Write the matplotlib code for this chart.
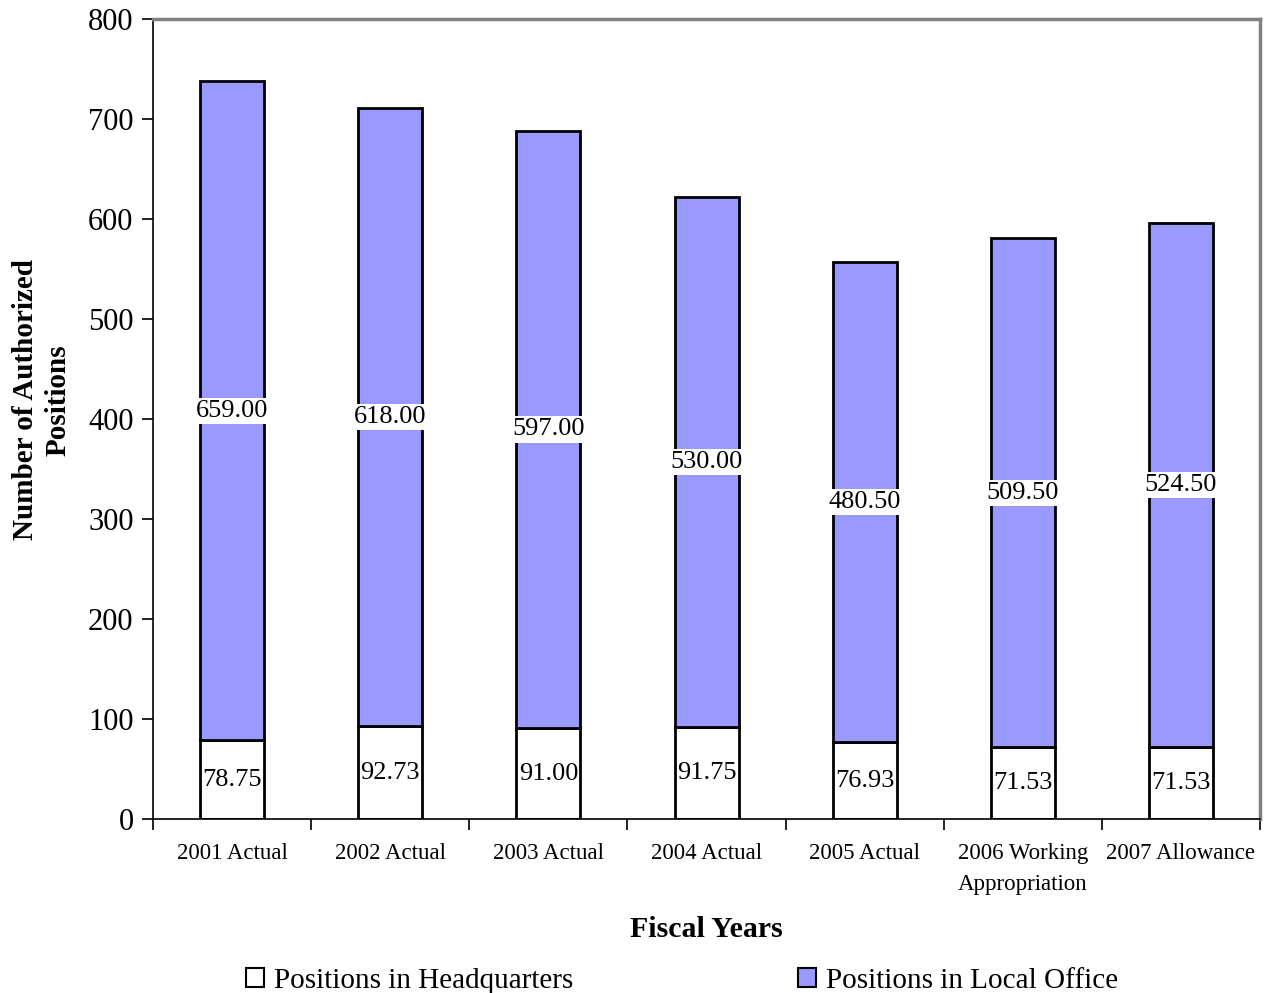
import numpy as np
import matplotlib
matplotlib.use("Agg")
import matplotlib.pyplot as plt
from matplotlib.patches import Patch

# Authorized positions by fiscal year
years = ["2001 Actual", "2002 Actual", "2003 Actual", "2004 Actual",
         "2005 Actual", "2006 Working\nAppropriation", "2007 Allowance"]
headquarters = [78.75, 92.73, 91.00, 91.75, 76.93, 71.53, 71.53]
local_office = [659.00, 618.00, 597.00, 530.00, 480.50, 509.50, 524.50]

plt.rcParams['font.family'] = ['Liberation Serif', 'DejaVu Serif']

fig = plt.figure(figsize=(12.68, 9.93), dpi=100)
ax = fig.add_axes([0.1207, 0.1752, 0.873, 0.8057])

x = np.arange(len(years))
hq = np.array(headquarters)
lo = np.array(local_office)
width = 0.405

ax.bar(x, hq, width, color="white", edgecolor="black", linewidth=2, zorder=2)
ax.bar(x, lo, width, bottom=hq, color="#9999ff", edgecolor="black", linewidth=2, zorder=2)

for xi, h, l in zip(x, hq, lo):
    ax.text(xi, h / 2, f"{h:.2f}", ha="center", va="center", fontsize=19, zorder=3)
    ax.text(xi, h + l / 2, f"{l:.2f}", ha="center", va="center", fontsize=19, zorder=3,
            bbox=dict(facecolor="white", edgecolor="none", pad=1.5))

ax.set_xlim(-0.5, len(years) - 0.5)
ax.set_ylim(0, 800)
ax.set_yticks(np.arange(0, 801, 100))
ax.tick_params(axis="y", labelsize=22, length=8, width=1.2, direction="out", pad=6)

# category labels in the middle, tick marks on the boundaries
ax.set_xticks(x)
ax.set_xticklabels(years, fontsize=16.5, linespacing=1.65)
ax.tick_params(axis="x", length=0, pad=17)
ax.set_xticks(np.arange(-0.5, len(years)), minor=True)
ax.tick_params(axis="x", which="minor", length=8, width=1.2, direction="out")

ax.spines["left"].set_linewidth(1.2)
ax.spines["bottom"].set_linewidth(1.2)
for side in ["top", "right"]:
    ax.spines[side].set_color("#808080")
    ax.spines[side].set_linewidth(2.5)

ax.set_ylabel("Number of Authorized\nPositions", fontsize=21, fontweight="bold", labelpad=12,
              linespacing=1.25)
ax.yaxis.label.set_y(0.524)
ax.set_xlabel("Fiscal Years", fontsize=21.5, fontweight="bold", labelpad=15)

handles = [Patch(facecolor="white", edgecolor="black", linewidth=1.5),
           Patch(facecolor="#9999ff", edgecolor="black", linewidth=1.5)]
fig.legend(handles, ["Positions in Headquarters", "Positions in Local Office"],
           loc="lower center", bbox_to_anchor=(0.538, -0.027), ncol=2, frameon=False,
           fontsize=21, handlelength=0.6, handleheight=0.6, handletextpad=0.35,
           columnspacing=7.7)

fig.savefig("out.png", dpi=100)
